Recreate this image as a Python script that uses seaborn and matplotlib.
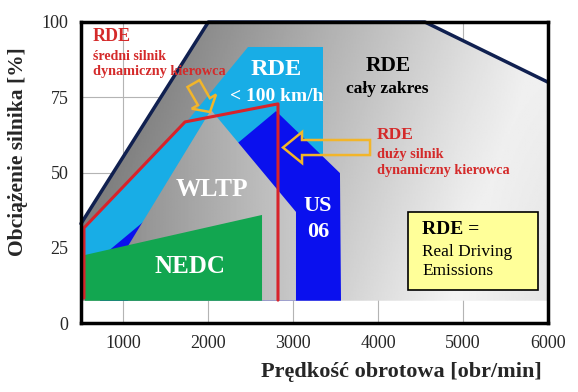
import numpy as np
import matplotlib
matplotlib.use("Agg")
import matplotlib.pyplot as plt
from matplotlib.patches import Polygon
import seaborn as sns

# Regions (engine speed [rpm], engine load [%])
rde_all_x = [500, 500, 2000, 4550, 6000, 6000]
rde_all_y = [7.4, 33, 100, 100, 80, 7.4]

rde_city_x = [535, 535, 1760, 2467, 3350, 3350, 1901]
rde_city_y = [19.3, 31.6, 67.4, 91.7, 91.7, 52.5, 19.3]

us06_x = [724, 2797, 3550, 3562, 724]
us06_y = [21.6, 70.4, 49.8, 7.4, 7.4]

wltp_x = [2031, 3032, 3032, 1054, 1054]
wltp_y = [70.8, 36.9, 7.4, 7.4, 25.6]

nedc_x = [547, 2632, 2632, 547]
nedc_y = [22.6, 35.9, 7.4, 7.4]

# RDE - medium engine, dynamic driver
rde_mid_x = [535, 535, 1725, 2820, 2820]
rde_mid_y = [8.3, 31.6, 66.8, 72.8, 7.6]

x_ticks = [1000, 2000, 3000, 4000, 5000, 6000]
y_ticks = [0, 25, 50, 75, 100]

sns.set_style("white")
plt.rcParams['font.family'] = ['Liberation Serif', 'DejaVu Serif']

fig = plt.figure(figsize=(5.78, 3.92), dpi=100)
ax = fig.add_axes([81 / 578, 1 - 323 / 392, 467 / 578, 301 / 392])
ax.set_xlim(500, 6000)
ax.set_ylim(0, 100)

# grid
ax.set_axisbelow(True)
ax.grid(True, color='#b4b4b4', lw=0.8)

# gradient grey area (RDE whole range)
gx = np.linspace(500, 6000, 300)
gy = np.linspace(0, 100, 200)
GX, GY = np.meshgrid(gx, gy)
t = np.clip((GX - 500) / 5500 * 1.1 - 0.25 * GY / 100 + 0.15, 0, 1)
shade = 0.45 + 0.5 * t - 0.06 * np.clip((GX - 5000) / 1000, 0, 1) * (1 - GY / 100)
all_poly = Polygon(np.column_stack([rde_all_x, rde_all_y]), closed=True,
                   facecolor='none', edgecolor='none')
ax.add_patch(all_poly)
im = ax.imshow(shade, extent=[500, 6000, 0, 100], origin='lower', cmap='gray',
               vmin=0, vmax=1, aspect='auto', zorder=1)
im.set_clip_path(all_poly)

ax.fill(rde_city_x, rde_city_y, color='#18ade6', lw=0, zorder=2)
ax.fill(us06_x, us06_y, color='#0a10ee', lw=0, zorder=3)

# WLTP gradient
wltp_poly = Polygon(np.column_stack([wltp_x, wltp_y]), closed=True,
                    facecolor='none', edgecolor='none', zorder=4)
ax.add_patch(wltp_poly)
w = 0.56 + 0.22 * np.clip((GX - 1000) / 2000, 0, 1)
im2 = ax.imshow(w, extent=[500, 6000, 0, 100], origin='lower', cmap='gray',
                vmin=0, vmax=1, aspect='auto', zorder=4)
im2.set_clip_path(wltp_poly)

ax.fill(nedc_x, nedc_y, color='#12a650', lw=0, zorder=5)

# navy envelope border
ax.plot(rde_all_x[1:5], rde_all_y[1:5], color='#102050', lw=2.5, zorder=6,
        clip_on=False)

sns.lineplot(x=rde_mid_x, y=rde_mid_y, sort=False, estimator=None,
             color='#d8232a', lw=2.2, ax=ax, zorder=7)

# hollow arrows
arrow1 = [(1754, 78.4), (1877, 72.4), (1805, 71.2), (2019, 70.1),
          (2090, 75.9), (2018, 74.7), (1896, 80.7)]
arrow2 = [(2879, 58.3), (3103, 63.45), (3103, 60.8), (3904, 60.8),
          (3904, 55.8), (3103, 55.8), (3103, 53.15)]
for a in (arrow1, arrow2):
    ax.add_patch(Polygon(a, closed=True, fill=False, edgecolor='#f2b52a',
                         lw=1.8, zorder=8))

red = '#d42a2a'
b = dict(fontweight='bold', zorder=9)
ax.text(641, 95.3, 'RDE', color=red, fontsize=13, ha='left', va='center', **b)
ax.text(641, 88.4, 'średni silnik', color=red, fontsize=10, ha='left', va='center', **b)
ax.text(641, 83.4, 'dynamiczny kierowca', color=red, fontsize=10.3, ha='left', va='center', **b)
ax.text(2797, 84.1, 'RDE', color='white', fontsize=17.5, ha='center', va='center', **b)
ax.text(2808, 75.4, '< 100 km/h', color='white', fontsize=14, ha='center', va='center', **b)
ax.text(4116, 85.4, 'RDE', color='black', fontsize=15.5, ha='center', va='center', **b)
ax.text(4104, 77.7, 'cały zakres', color='black', fontsize=12.5, ha='center', va='center', **b)
ax.text(3986, 62.5, 'RDE', color=red, fontsize=12.5, ha='left', va='center', **b)
ax.text(3986, 56.1, 'duży silnik', color=red, fontsize=10.3, ha='left', va='center', **b)
ax.text(3986, 50.5, 'dynamiczny kierowca', color=red, fontsize=10.3, ha='left', va='center', **b)
ax.text(2043, 44.2, 'WLTP', color='white', fontsize=18.4, ha='center', va='center', **b)
ax.text(1784, 18.9, 'NEDC', color='white', fontsize=18, ha='center', va='center', **b)
ax.text(3291, 38.9, 'US', color='white', fontsize=16, ha='center', va='center', **b)
ax.text(3291, 30.2, '06', color='white', fontsize=16, ha='center', va='center', **b)

# RDE legend box
ax.add_patch(plt.Rectangle((4351, 11.0), 1531, 25.9, facecolor='#ffff99',
                           edgecolor='black', lw=1.2, zorder=8))
ax.text(4516, 30.9, 'RDE =', color='black', fontsize=14, ha='left', va='center', **b)
ax.text(4516, 23.6, 'Real Driving', color='black', fontsize=12.4, ha='left', va='center', zorder=9)
ax.text(4516, 17.3, 'Emissions', color='black', fontsize=12.4, ha='left', va='center', zorder=9)

ax.set_xticks(x_ticks)
ax.set_yticks(y_ticks)
ax.tick_params(length=0, labelsize=13, pad=9)
for s in ax.spines.values():
    s.set_color('black')
    s.set_linewidth(2.5)
    s.set_zorder(10)

fig.text(401 / 578, 1 - 372 / 392, 'Prędkość obrotowa [obr/min]', fontsize=16,
         fontweight='bold', ha='center', va='center')
fig.text(18 / 578, 1 - 152 / 392, 'Obciążenie silnika [%]', fontsize=15.5,
         fontweight='bold', ha='center', va='center', rotation=90)

fig.savefig('out.png', dpi=100)
